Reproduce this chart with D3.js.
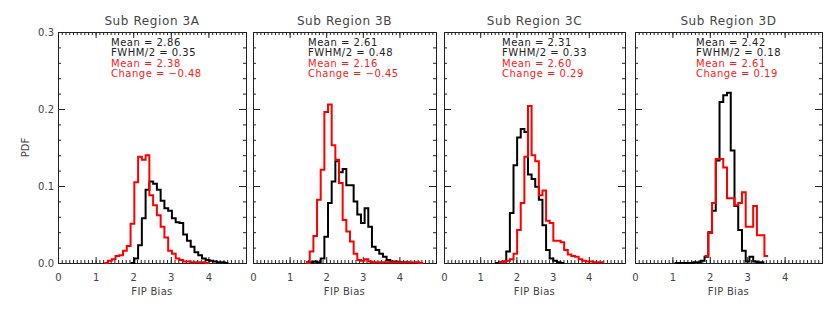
<!DOCTYPE html>
<html>
<head>
<meta charset="utf-8">
<script src="https://cdn.jsdelivr.net/npm/d3@7"></script>
<style>
  body { margin: 0; background: #fff; }
  svg text { font-family: "DejaVu Sans", sans-serif; }
</style>
</head>
<body>
<svg id="chart" width="830" height="312"></svg>
<script>
// data, histogram bins are 0.1 wide
const regionTitles = ['Sub Region 3A', 'Sub Region 3B', 'Sub Region 3C', 'Sub Region 3D'];
const binWidth = 0.1;

// black = before, red = after; each has the left edge of its first bin
const blackStart = [1.93, 1.45, 1.42, 1.06];
const black3A = [0.000, 0.006, 0.023, 0.058, 0.095, 0.106, 0.103, 0.095, 0.081, 0.071, 0.068, 0.058, 0.053,
  0.052, 0.037, 0.029, 0.021, 0.014, 0.010, 0.006, 0.004, 0.003, 0.002, 0.001, 0.001, 0.000];
const black3B = [0.001, 0.001, 0.002, 0.001, 0.006, 0.034, 0.078, 0.106, 0.132, 0.118, 0.122, 0.101, 0.101,
  0.080, 0.063, 0.052, 0.071, 0.047, 0.021, 0.017, 0.012, 0.008, 0.004, 0.002, 0.002, 0.001, 0.001, 0.001, 0.000];
const black3C = [0.000, 0.001, 0.002, 0.015, 0.065, 0.127, 0.163, 0.174, 0.170, 0.115, 0.109, 0.099, 0.082,
  0.049, 0.017, 0.006, 0.003, 0.001, 0.000];
const black3D = [0.000, 0.000, 0.000, 0.000, 0.000, 0.001, 0.001, 0.003, 0.008, 0.040, 0.068, 0.133, 0.209,
  0.218, 0.221, 0.146, 0.074, 0.043, 0.016, 0.002, 0.008, 0.002, 0.001, 0.001];

const redStart = [1.23, 1.45, 1.52, 1.86];
const red3A = [0.000, 0.003, 0.005, 0.009, 0.010, 0.016, 0.022, 0.051, 0.105, 0.138, 0.134, 0.140, 0.088,
  0.075, 0.062, 0.047, 0.033, 0.016, 0.012, 0.006, 0.004, 0.002, 0.002, 0.001, 0.001, 0.001, 0.001, 0.000];
const red3B = [0.000, 0.015, 0.035, 0.082, 0.121, 0.196, 0.206, 0.153, 0.134, 0.104, 0.056, 0.041, 0.028,
  0.012, 0.004, 0.003, 0.005, 0.002, 0.001, 0.001, 0.001, 0.001, 0.001, 0.001, 0.001, 0.001, 0.001, 0.001,
  0.001, 0.001, 0.001, 0.000];
const red3C = [0.001, 0.002, 0.003, 0.005, 0.012, 0.043, 0.078, 0.138, 0.204, 0.140, 0.132, 0.088, 0.094,
  0.055, 0.052, 0.029, 0.029, 0.027, 0.017, 0.011, 0.009, 0.008, 0.005, 0.003, 0.002, 0.002, 0.001, 0.001, 0.001];
const red3D = [0.009, 0.039, 0.078, 0.135, 0.135, 0.124, 0.084, 0.084, 0.075, 0.078, 0.092, 0.047, 0.047,
  0.074, 0.036, 0.036, 0.009];

const blackSeries = [black3A, black3B, black3C, black3D];
const redSeries = [red3A, red3B, red3C, red3D];

const meanBefore = [2.86, 2.61, 2.31, 2.42];
const fwhmHalf = [0.35, 0.48, 0.33, 0.18];
const meanAfter = [2.38, 2.16, 2.60, 2.61];
const changes = [-0.48, -0.45, 0.29, 0.19];

const xTicks = [0, 1, 2, 3, 4];
const yTicks = [0, 0.1, 0.2, 0.3];
const xLabel = 'FIP Bias';
const yLabel = 'PDF';

// layout
const yTop = 32, yBot = 263;
const boxes = [[58, 246], [253, 436], [444, 625], [635, 822]];
const noteX = [111, 308, 502, 696];

const svg = d3.select('#chart');
const y = d3.scaleLinear().domain([0, 0.3]).range([yBot, yTop]);
const fmt = v => v.toFixed(2).replace('-', '\u2212');

const toPoints = (start, vals) => {
  const pts = vals.map((v, i) => [start + i * binWidth, v]);
  pts.push([start + vals.length * binWidth, vals[vals.length - 1]]);
  return pts;
};

regionTitles.forEach((title, i) => {
  const x = d3.scaleLinear().domain([0, 5]).range(boxes[i]);
  const g = svg.append('g');

  const axis = (a, tr) => g.append('g')
    .attr('transform', tr)
    .call(a)
    .call(s => s.select('.domain').remove())
    .call(s => s.selectAll('line').attr('stroke', '#222'));

  const xMinor = x.ticks(50);
  const yMinor = d3.range(0, 0.3001, 0.02);

  // bottom / top ticks, pointing in
  axis(d3.axisBottom(x).tickValues(xMinor).tickSize(-3).tickFormat(''), `translate(0,${yBot})`);
  axis(d3.axisTop(x).tickValues(xMinor).tickSize(-3).tickFormat(''), `translate(0,${yTop})`);
  axis(d3.axisTop(x).tickValues(xTicks).tickSize(-6).tickFormat(''), `translate(0,${yTop})`);
  const bx = axis(d3.axisBottom(x).tickValues(xTicks).tickSize(-6).tickPadding(11).tickFormat(d3.format('d')),
    `translate(0,${yBot})`);
  bx.attr('font-family', 'DejaVu Sans').attr('font-size', 10).selectAll('text').attr('fill', '#444');

  // left / right ticks
  axis(d3.axisLeft(y).tickValues(yMinor).tickSize(-3).tickFormat(''), `translate(${boxes[i][0]},0)`);
  axis(d3.axisRight(y).tickValues(yMinor).tickSize(-3).tickFormat(''), `translate(${boxes[i][1]},0)`);
  axis(d3.axisRight(y).tickValues(yTicks).tickSize(-7).tickFormat(''), `translate(${boxes[i][1]},0)`);
  const ly = axis(d3.axisLeft(y).tickValues(yTicks).tickSize(-7).tickPadding(4)
      .tickFormat(i === 0 ? d3.format('.1f') : ''), `translate(${boxes[i][0]},0)`);
  ly.attr('font-family', 'DejaVu Sans').attr('font-size', 10).selectAll('text').attr('fill', '#444');

  g.append('rect')
    .attr('x', boxes[i][0] + 0.5).attr('y', yTop + 0.5)
    .attr('width', boxes[i][1] - boxes[i][0]).attr('height', yBot - yTop)
    .attr('fill', 'none').attr('stroke', '#222').attr('stroke-width', 1);

  const line = d3.line()
    .x(d => x(d[0]))
    .y(d => y(d[1]))
    .curve(d3.curveStepAfter);

  g.append('path')
    .attr('d', line(toPoints(blackStart[i], blackSeries[i])))
    .attr('fill', 'none').attr('stroke', '#000').attr('stroke-width', 2);
  g.append('path')
    .attr('d', line(toPoints(redStart[i], redSeries[i])))
    .attr('fill', 'none').attr('stroke', '#ff0000').attr('stroke-width', 2);

  // title
  g.append('text')
    .attr('x', (boxes[i][0] + boxes[i][1]) / 2).attr('y', 25)
    .attr('text-anchor', 'middle').attr('font-size', 12).attr('fill', '#444')
    .attr('letter-spacing', 0.6)
    .text(title);

  const notes = [
    ['Mean = ' + fmt(meanBefore[i]), '#222'],
    ['FWHM/2 = ' + fmt(fwhmHalf[i]), '#222'],
    ['Mean = ' + fmt(meanAfter[i]), '#ff2020'],
    ['Change = ' + fmt(changes[i]), '#ff2020']
  ];
  notes.forEach((n, k) => {
    g.append('text')
      .attr('x', noteX[i]).attr('y', 45.5 + k * 10.5)
      .attr('font-size', 10).attr('letter-spacing', 0.5).attr('fill', n[1])
      .text(n[0]);
  });

  g.append('text')
    .attr('x', (boxes[i][0] + boxes[i][1]) / 2).attr('y', 295)
    .attr('text-anchor', 'middle').attr('font-size', 10).attr('fill', '#444')
    .attr('letter-spacing', 0.3)
    .text(xLabel);
});

svg.append('text')
  .attr('transform', `translate(29,${(yTop + yBot) / 2}) rotate(-90)`)
  .attr('text-anchor', 'middle').attr('font-size', 10).attr('fill', '#444')
  .text(yLabel);
</script>
</body>
</html>
